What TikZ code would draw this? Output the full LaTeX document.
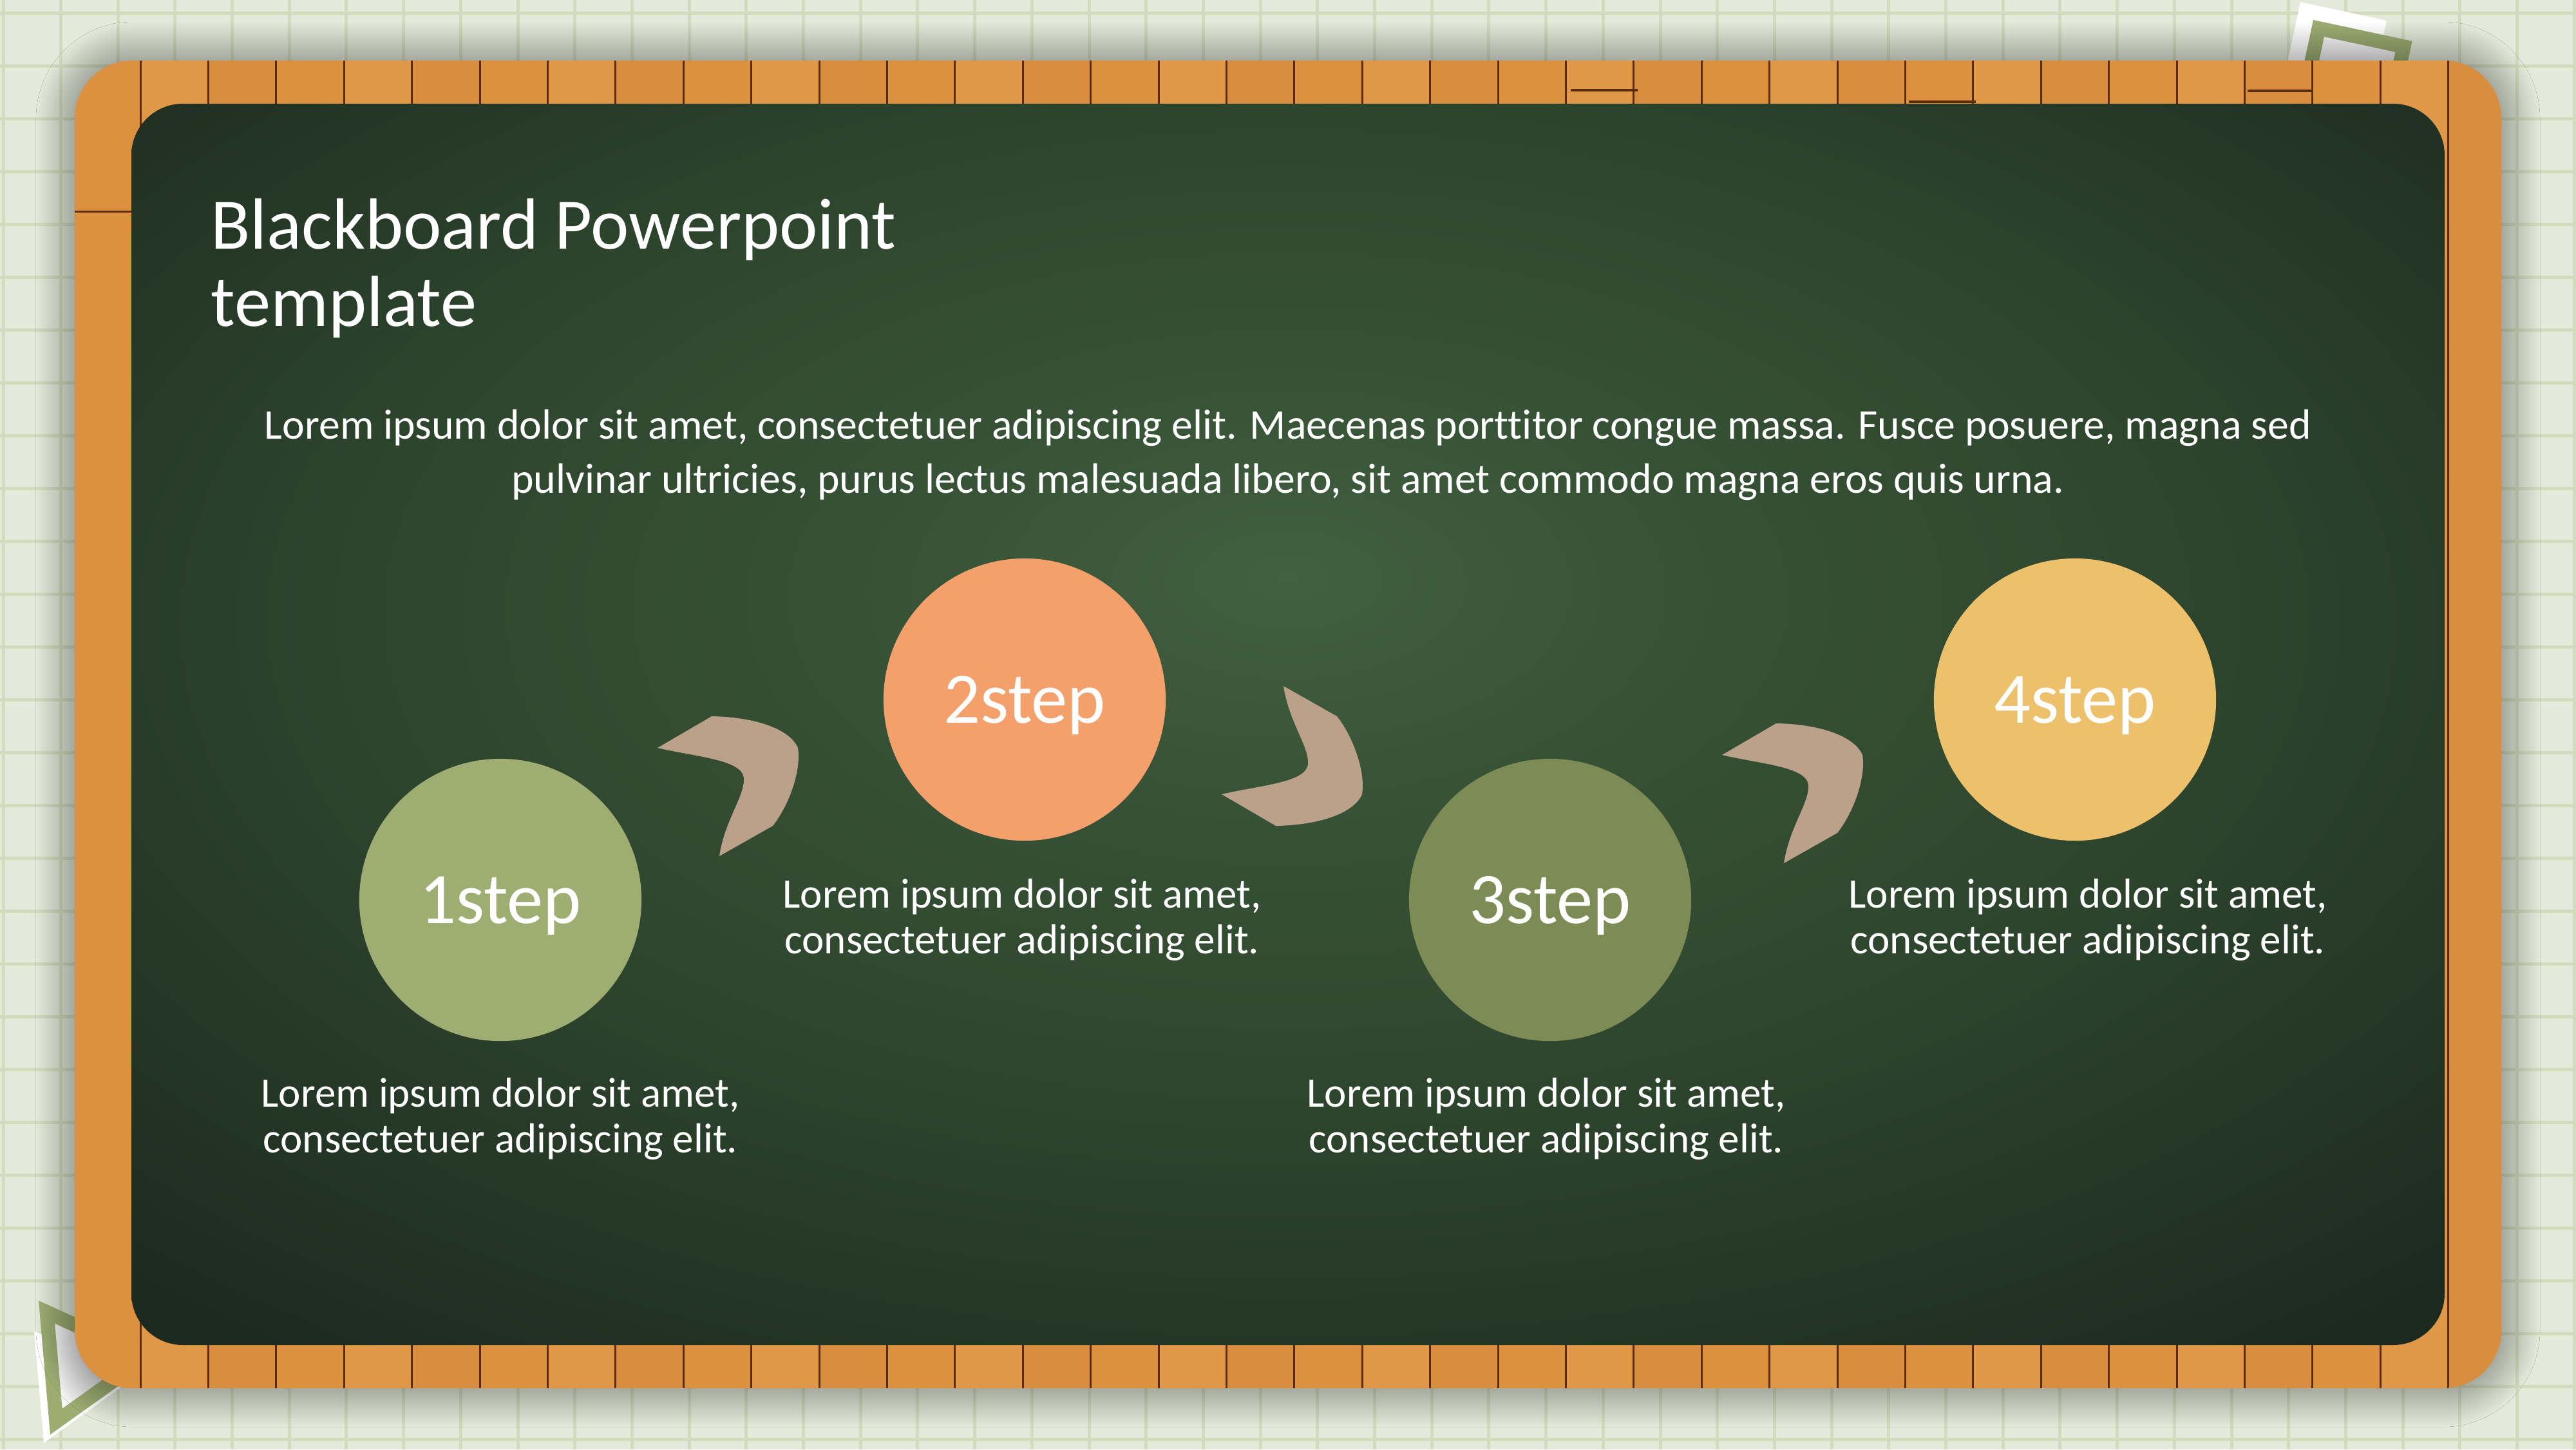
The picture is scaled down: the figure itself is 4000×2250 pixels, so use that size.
\documentclass[tikz,border=0pt]{standalone}
\usepackage{fontspec}
\setmainfont{Carlito}[Ligatures=CommonOff]
\usetikzlibrary{positioning,shadows.blur}

\definecolor{paper}{HTML}{E4E9D9}
\definecolor{gridline}{HTML}{D3DBBF}
\definecolor{wood0}{HTML}{DC9141}
\definecolor{wood1}{HTML}{E09748}
\definecolor{wood2}{HTML}{D98E3F}
\definecolor{woodline}{HTML}{5A2C0A}
\definecolor{boardlight}{HTML}{416140}
\definecolor{boardmid}{HTML}{2E452D}
\definecolor{boarddark}{HTML}{15201A}
\definecolor{stepa}{HTML}{9EAE72}
\definecolor{stepb}{HTML}{F3A06D}
\definecolor{stepc}{HTML}{7C8C54}
\definecolor{stepd}{HTML}{EDC06C}
\definecolor{chevcol}{HTML}{BBA189}
\definecolor{leafgreen}{HTML}{9CAD72}

\pgfdeclareradialshading{boardglow}{\pgfpoint{0bp}{6bp}}{color(0bp)=(boardlight); color(9bp)=(boardmid!55!boardlight); color(20bp)=(boardmid); color(31bp)=(boarddark!50!boardmid); color(42bp)=(boarddark); color(75bp)=(boarddark)}

\begin{document}
\begin{tikzpicture}[x=0.01cm, y=-0.01cm,
    stepdot/.style={circle, inner sep=0pt, minimum size=4.38cm, text=white, text depth=0pt, font=\fontsize{32}{32}\selectfont},
    blurb/.style={align=center, inner sep=0pt, text=white, font=\fontsize{18.5}{20}\selectfont},
    chevron/.pic={\fill[chevcol] (0,0) -- (84,-49) .. controls (150,-48) and (205,-30) .. (218,0) .. controls (224,40) and (200,95) .. (179,121) -- (96,168) .. controls (105,110) and (136,75) .. (134,46) .. controls (130,18) and (60,14) .. (0,0) -- cycle;}]
    \useasboundingbox (0,0) rectangle (4000,2250);
    % squared paper
    \fill[paper] (0,0) rectangle (4000,2250);
    \foreach \gx in {-1,...,44}
        \draw[gridline, line width=0.05cm] ({94.4+88.7*\gx},0) -- ({94.4+88.7*\gx},2250);
    \foreach \gy in {0,...,27}
        \draw[gridline, line width=0.05cm] (0,{20+82*\gy}) -- (4000,{20+82*\gy});
    % paper cut-outs behind the frame
    \fill[white] (3572,3) -- (3706,32) -- (3672,188) -- (3538,160) -- cycle;
    \draw[leafgreen, line width=0.22cm, top color=white, bottom color=gray!40] (3600.5,44) -- (3732.5,72.3) -- (3704.2,204.3) -- (3572.2,176) -- cycle;
    \fill[white] (53,2067) -- (68,2240) -- (232,2122) -- cycle;
    \draw[leafgreen, line width=0.22cm, left color=white, right color=gray!45] (72.6,2036.9) -- (87.3,2206.9) -- (227.1,2107.2) -- cycle;
    % wooden frame
    \path[blur shadow={shadow xshift=0pt, shadow yshift=0pt, shadow blur radius=0.6cm, shadow blur steps=30, shadow opacity=55}, fill=wood0, rounded corners=0.9cm] (116,94) rectangle (3884,2155);
    \begin{scope}
        \clip[rounded corners=0.9cm] (116,94) rectangle (3884,2155);
        \foreach \k in {-1,...,34} {
            \pgfmathtruncatemacro\tone{mod(\k+4,3)}
            \fill[wood\tone] ({218+105.4*\k},94) rectangle ({323.4+105.4*\k},2155);
            \draw[woodline, line width=0.03cm] ({218+105.4*\k},94) -- ({218+105.4*\k},2155);
        }
        \draw[woodline, line width=0.035cm] (2439,140) -- (2543,140);
        \draw[woodline, line width=0.035cm] (3490,141) -- (3592,141);
        \draw[woodline, line width=0.035cm] (2964,158) -- (3068,158);
        \draw[woodline, line width=0.03cm] (116,328) -- (204,328);
    \end{scope}
    % blackboard
    \path[shading=boardglow, rounded corners=0.8cm] (204,161) rectangle (3796,2088);
    % headings
    \node[anchor=north west, align=left, inner sep=0pt, text=white, font=\fontsize{32}{34}\selectfont] (title) at (327,308) {Blackboard Powerpoint\\template};
    \node[anchor=north, align=center, inner sep=0pt, text=white, font=\fontsize{18.7}{23.9}\selectfont] (intro) at (2000,635) {Lorem ipsum dolor sit amet, consectetuer adipiscing elit. Maecenas porttitor congue massa. Fusce posuere, magna sed\\pulvinar ultricies, purus lectus malesuada libero, sit amet commodo magna eros quis urna.};
    % steps
    \node[stepdot, fill=stepa] (s1) at (777,1397) {1step};
    \node[stepdot, fill=stepb] (s2) at (1591,1086) {2step};
    \node[stepdot, fill=stepc] (s3) at (2407,1397) {3step};
    \node[stepdot, fill=stepd] (s4) at (3222,1086) {4step};
    \node[blurb, below=0.56cm of s1] (t1) {Lorem ipsum dolor sit amet,\\consectetuer adipiscing elit.};
    \node[blurb, below=0.58cm of s2, xshift=-0.04cm] (t2) {Lorem ipsum dolor sit amet,\\consectetuer adipiscing elit.};
    \node[blurb, below=0.56cm of s3, xshift=-0.06cm] (t3) {Lorem ipsum dolor sit amet,\\consectetuer adipiscing elit.};
    \node[blurb, below=0.58cm of s4, xshift=0.2cm] (t4) {Lorem ipsum dolor sit amet,\\consectetuer adipiscing elit.};
    % chevrons between the steps
    \pic (ch1) at (1021,1161) {chevron};
    \pic[yscale=-1] (ch2) at (1897,1233) {chevron};
    \pic (ch3) at (2674,1172) {chevron};
\end{tikzpicture}
\end{document}
